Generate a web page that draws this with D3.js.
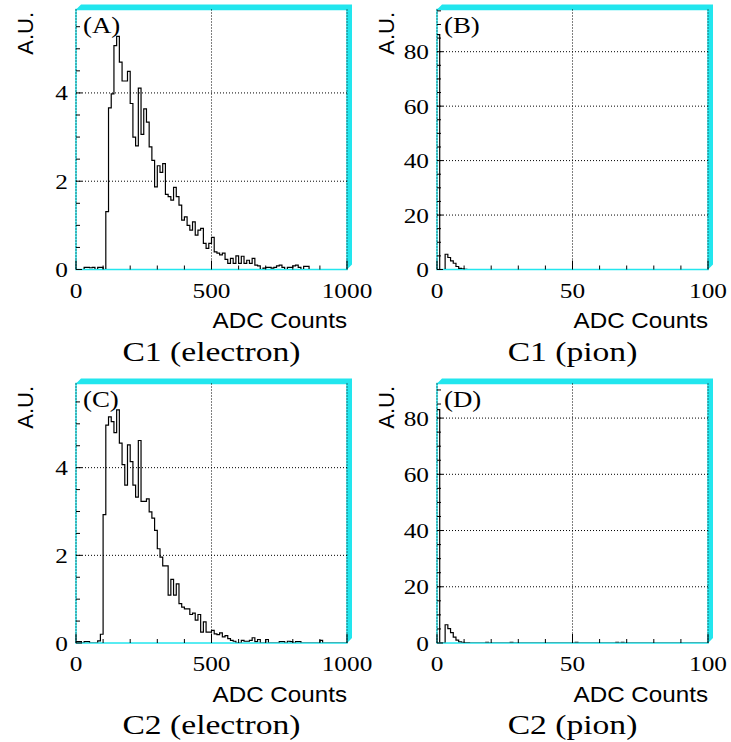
<!DOCTYPE html>
<html>
<head>
<meta charset="utf-8">
<script src="https://cdn.jsdelivr.net/npm/d3@7"></script>
<style>
  body { margin: 0; background: #fff; }
</style>
</head>
<body>
<svg id="chart" width="731" height="742"></svg>
<script>
// bin contents, 100 bins per histogram
const c1Electron = [
  0, 0, 0, 0.05, 0.05, 0.04, 0.05, 0, 0.05, 0.05,
  0, 1.31, 3.66, 3.98, 5.07, 5.28, 4.70, 4.27, 4.27, 4.49,
  3.76, 3.0, 2.80, 4.11, 3.06, 3.64, 3.34, 2.78, 2.47, 1.87,
  2.35, 2.2, 2.4, 1.70, 1.65, 1.57, 1.86, 1.65, 1.46, 1.12,
  1.19, 1.0, 0.89, 1.08, 0.78, 0.89, 0.93, 0.59, 0.48, 0.59,
  0.73, 0.40, 0.37, 0.33, 0.37, 0.23, 0.14, 0.25, 0.14, 0.31,
  0.14, 0.30, 0.14, 0.21, 0.14, 0.25, 0.10, 0.08, 0, 0.03,
  0.05, 0.05, 0.03, 0.05, 0.08, 0.10, 0.05, 0, 0.05, 0.05,
  0.08, 0.10, 0.05, 0, 0.07, 0.07, 0, 0, 0, 0,
  0, 0, 0, 0, 0, 0, 0, 0, 0, 0
];
const c1Pion = [
  86.3, 0, 0, 5.6, 4.4, 3.2, 2.3, 1.1, 0.4, 0.2,
  0.1, 0, 0, 0, 0, 0, 0, 0, 0, 0,
  0, 0, 0, 0, 0, 0, 0, 0, 0, 0,
  0, 0, 0, 0, 0, 0, 0, 0, 0, 0,
  0, 0, 0, 0, 0, 0, 0, 0, 0, 0,
  0, 0, 0, 0, 0, 0, 0, 0, 0, 0,
  0, 0, 0, 0, 0, 0, 0, 0, 0, 0,
  0, 0, 0, 0, 0, 0, 0, 0, 0, 0,
  0, 0, 0, 0, 0, 0, 0, 0, 0, 0,
  0, 0, 0, 0, 0, 0, 0, 0, 0, 0
];
const c2Electron = [
  0.03, 0.03, 0, 0.03, 0.03, 0, 0, 0, 0.05, 0.2,
  2.93, 4.97, 5.16, 5.05, 4.8, 5.32, 4.56, 4.07, 3.6, 4.52,
  4.14, 3.6, 3.33, 4.62, 3.23, 3.23, 3.29, 2.99, 2.85, 2.57,
  2.15, 1.96, 1.76, 1.76, 1.09, 1.45, 1.09, 1.35, 0.9, 0.82,
  0.78, 0.78, 0.65, 0.68, 0.52, 0.65, 0.25, 0.48, 0.25, 0.25,
  0.29, 0.21, 0.19, 0.23, 0.14, 0.17, 0.10, 0.06, 0.04, 0,
  0, 0.06, 0.04, 0.04, 0.06, 0.12, 0.03, 0.08, 0, 0,
  0.08, 0, 0, 0, 0, 0.03, 0.03, 0, 0.04, 0.03,
  0, 0.03, 0.03, 0, 0, 0, 0, 0, 0, 0,
  0.06, 0, 0, 0, 0, 0, 0, 0, 0, 0
];
const c2Pion = [
  83.0, 0, 0, 6.5, 5.1, 3.7, 2.1, 1.0, 0.4, 0.2,
  0.1, 0.1, 0, 0, 0, 0, 0, 0, 0.2, 0,
  0, 0, 0, 0, 0, 0, 0, 0.2, 0, 0,
  0, 0, 0, 0, 0, 0, 0, 0, 0, 0,
  0, 0, 0, 0, 0, 0, 0, 0, 0, 0,
  0, 0.2, 0, 0, 0, 0, 0, 0, 0, 0,
  0, 0, 0, 0, 0, 0, 0.2, 0, 0.2, 0,
  0, 0, 0, 0, 0, 0, 0, 0, 0, 0,
  0, 0, 0, 0, 0, 0, 0, 0, 0, 0,
  0, 0, 0, 0, 0, 0, 0, 0, 0, 0
];

const panelLabels = ['(A)', '(B)', '(C)', '(D)'];
const panelTitles = ['C1 (electron)', 'C1 (pion)', 'C2 (electron)', 'C2 (pion)'];
const xMax = [1000, 100, 1000, 100];
const yMax = [5.89, 95.5, 5.92, 92.3];
const electronXTicks = [0, 500, 1000];
const pionXTicks = [0, 50, 100];
const electronYTicks = [0, 2, 4];
const pionYTicks = [0, 20, 40, 60, 80];
const xTitle = 'ADC Counts';
const yTitle = 'A.U.';

const series = [c1Electron, c1Pion, c2Electron, c2Pion];

const svg = d3.select('#chart');
const cyan = '#22e6ee';
const colX = [[76, 347], [437, 708]];
const rowY = [[9.5, 269.5], [383.5, 643]];
const stretch = 1.15;

series.forEach((bins, p) => {
  const col = p % 2, row = Math.floor(p / 2);
  const [x0, x1] = colX[col];
  const [y0, y1] = rowY[row];
  const isPion = col === 1;

  const x = d3.scaleLinear().domain([0, xMax[p]]).range([x0, x1]);
  const y = d3.scaleLinear().domain([0, yMax[p]]).range([y1, y0]);
  const majX = isPion ? pionXTicks : electronXTicks;
  const majY = isPion ? pionYTicks : electronYTicks;
  const minStepX = isPion ? 10 : 100;
  const minStepY = isPion ? 5 : 0.5;

  const g = svg.append('g');

  // 3d-ish cyan shadow on top and right
  const s = 5;
  g.append('path')
    .attr('d', `M${x0},${y0} L${x0 + s},${y0 - s} L${x1 + s},${y0 - s} L${x1 + s},${y1 - s} L${x1},${y1} L${x1},${y0} Z`)
    .attr('fill', cyan);

  g.append('rect')
    .attr('x', x0).attr('y', y0)
    .attr('width', x1 - x0).attr('height', y1 - y0)
    .attr('fill', '#fff')
    .attr('stroke', cyan)
    .attr('stroke-width', 1.5);

  // dotted grid
  majX.forEach(v => {
    g.append('line')
      .attr('x1', x(v)).attr('x2', x(v))
      .attr('y1', y0).attr('y2', y1)
      .attr('stroke', '#000').attr('stroke-width', 1)
      .attr('stroke-dasharray', '1,2');
  });
  majY.filter(v => v > 0).forEach(v => {
    g.append('line')
      .attr('x1', x0).attr('x2', x1)
      .attr('y1', y(v)).attr('y2', y(v))
      .attr('stroke', '#000').attr('stroke-width', 1)
      .attr('stroke-dasharray', '1,2');
  });

  // tick marks (inward)
  d3.range(0, xMax[p] + 1e-9, minStepX).forEach(v => {
    const major = majX.includes(v);
    g.append('line')
      .attr('x1', x(v)).attr('x2', x(v))
      .attr('y1', y1).attr('y2', y1 - (major ? 9 : 4))
      .attr('stroke', '#000').attr('stroke-width', 1);
  });
  d3.range(0, yMax[p], minStepY).forEach(v => {
    const major = majY.includes(+v.toFixed(3));
    g.append('line')
      .attr('x1', x0).attr('x2', x0 + (major ? 6 : 4))
      .attr('y1', y(v)).attr('y2', y(v))
      .attr('stroke', '#000').attr('stroke-width', 1);
  });

  // histogram
  const clipId = 'clip' + p;
  g.append('clipPath').attr('id', clipId)
    .append('rect')
    .attr('x', x0).attr('y', y0 - 1)
    .attr('width', x1 - x0).attr('height', y1 - y0 + 0.5);

  const w = xMax[p] / bins.length;
  const pts = bins.map((v, i) => [i * w, v]);
  pts.push([xMax[p], bins[bins.length - 1]]);
  const line = d3.line()
    .x(d => x(d[0]))
    .y(d => y(d[1]))
    .curve(d3.curveStepAfter);

  g.append('path')
    .attr('d', line(pts))
    .attr('clip-path', `url(#${clipId})`)
    .attr('fill', 'none')
    .attr('stroke', '#000')
    .attr('stroke-width', 1.2);

  // tick labels
  majX.forEach(v => {
    g.append('g')
      .attr('transform', `translate(${x(v)},${y1 + 28}) scale(${stretch},1)`)
      .append('text')
      .attr('text-anchor', 'middle')
      .style('font-family', '"Liberation Serif", serif')
      .style('font-size', '22px')
      .text(v);
  });
  majY.forEach(v => {
    g.append('g')
      .attr('transform', `translate(${x0 - 8},${y(v) + 7.5}) scale(${stretch},1)`)
      .append('text')
      .attr('text-anchor', 'end')
      .style('font-family', '"Liberation Serif", serif')
      .style('font-size', '22px')
      .text(v);
  });

  // axis titles
  g.append('g')
    .attr('transform', `translate(${x1},${y1 + 58.5}) scale(1.1,1)`)
    .append('text')
    .attr('text-anchor', 'end')
    .style('font-family', '"Liberation Sans", Arial, sans-serif')
    .style('font-size', '22px')
    .text(xTitle);

  g.append('text')
    .attr('transform', `translate(${x0 - 43},${y0 + 2.5}) rotate(-90)`)
    .attr('text-anchor', 'end')
    .style('font-family', '"Liberation Sans", Arial, sans-serif')
    .style('font-size', '22px')
    .text(yTitle);

  // panel letter
  g.append('g')
    .attr('transform', `translate(${x0 + 7},${y0 + 23}) scale(1.12,1)`)
    .append('text')
    .style('font-family', '"Liberation Serif", serif')
    .style('font-size', '24px')
    .text(panelLabels[p]);

  // panel title
  g.append('g')
    .attr('transform', `translate(${(x0 + x1) / 2},${y1 + 91}) scale(1.2,1)`)
    .append('text')
    .attr('text-anchor', 'middle')
    .style('font-family', '"Liberation Serif", serif')
    .style('font-size', '28px')
    .text(panelTitles[p]);
});
</script>
</body>
</html>
